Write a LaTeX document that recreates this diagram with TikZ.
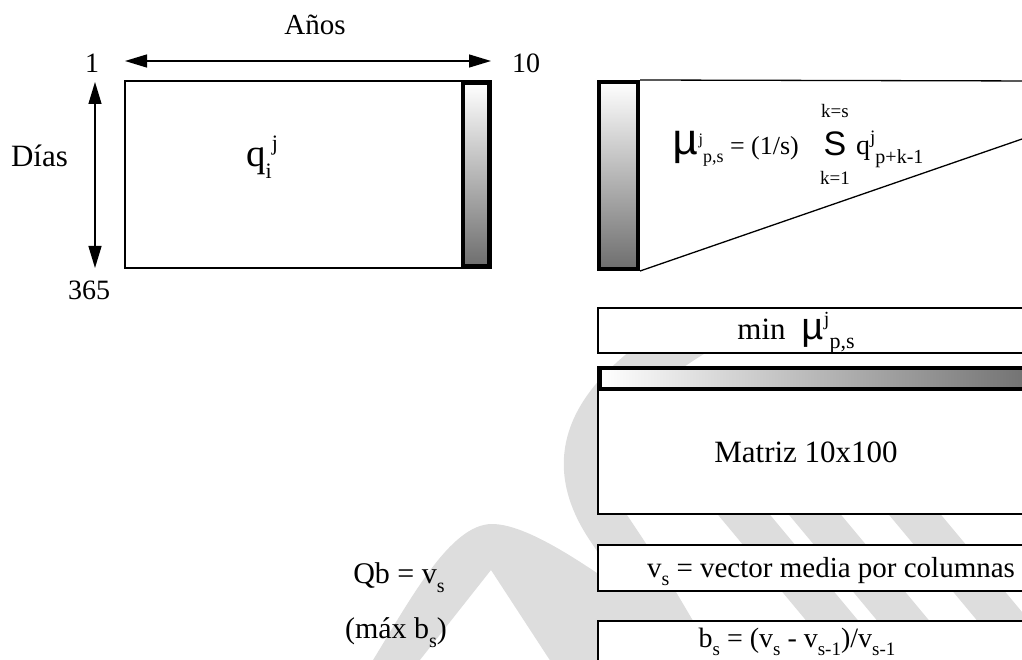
\documentclass[tikz,border=0pt]{standalone}
\usepackage{fontspec}
\setmainfont{Liberation Serif}
\newfontfamily\symsans{Liberation Sans}
\newfontfamily\monomu{Liberation Mono}
\usetikzlibrary{arrows.meta}

\definecolor{wmark}{HTML}{DDDDDD}
\definecolor{rampend}{HTML}{6E6E6E}

\newcommand{\hi}[2]{\raisebox{.42em}{\fontsize{#1}{#1}\selectfont #2}}
\newcommand{\lo}[2]{\raisebox{-.3em}{\fontsize{#1}{#1}\selectfont #2}}
\newcommand{\mug}[1]{{\monomu\fontsize{#1}{#1}\selectfont μ}}

\tikzset{
  cell/.style={draw, fill=white, line width=1.3pt, inner sep=0pt},
  ramp/.style={draw, line width=4pt, inner sep=0pt},
  lbl/.style={inner sep=0pt, anchor=base, font=\fontsize{29}{34}\selectfont},
  small/.style={inner sep=0pt, anchor=base, font=\fontsize{19}{23}\selectfont},
  span/.style={{Triangle[length=22pt,width=13pt]}-{Triangle[length=22pt,width=13pt]}, line width=1.3pt},
  wm/.style={draw=wmark, line width=45pt}
}

\begin{document}
\begin{tikzpicture}[x=1pt, y=-1pt]
\useasboundingbox (0,0) rectangle (1022,660);
\clip (0,0) rectangle (1022,660);

% watermark in the background
\fill[wmark] (370,665) .. controls (410,600) and (450,524) .. (492,524) .. controls (530,524) and (600,570) .. (720,665) -- (553,665) -- (491,570) -- (416,665) -- cycle;
\draw[wm] (700,330) .. controls (600,390) and (555,450) .. (610,530) .. controls (640,575) .. (690,660);
\foreach \sx in {650,721,821}
  \draw[wm, line width=40pt] (\sx,402) -- ++(250,300);

% daily flows matrix
\node[cell, minimum width=366pt, minimum height=187pt] (qmat) at (308,174.5) {};
\node[ramp, minimum width=26pt, minimum height=183pt, top color=white, bottom color=rampend] (qcol) at (476,174.5) {};
\coordinate (ytop) at (125,61);
\coordinate (yend) at (491,61);
\draw[span] (ytop) -- (yend);
\coordinate (dtop) at (95,82);
\coordinate (dend) at (95,268);
\draw[span] (dtop) -- (dend);

\node[lbl] (anos) at (315,35) {Años};
\node[lbl, font=\fontsize{28}{32}\selectfont] (first) at (92,73) {1};
\node[lbl, font=\fontsize{28}{32}\selectfont] (ten) at (526,73) {10};
\node[lbl, font=\fontsize{31}{36}\selectfont] (dias) at (39.5,167) {Días};
\node[lbl, font=\fontsize{28}{32}\selectfont] (days) at (89,299) {365};
\node[lbl, font=\fontsize{39}{44}\selectfont] (qij) at (262,167) {q\lo{22}{i}\hi{22}{j}};

% moving average
\node[ramp, minimum width=39.5pt, minimum height=187pt, top color=white, bottom color=rampend] (mucol) at (618.3,175.5) {};
\coordinate (fantop) at (1040,81);
\coordinate (fanbot) at (1040,132.8);
\draw[line width=1.3pt] (mucol.north east) -- (fantop);
\draw[line width=1.3pt] (mucol.south east) -- (fanbot);

\node[lbl, anchor=base west, font=\fontsize{26}{30}\selectfont] (avg) at (672,155) {\mug{44}\hi{16}{j}\lo{18}{p,s} = (1/s)};
\node[lbl, font=\symsans\fontsize{34}{38}\selectfont] (sig) at (835,156) {S};
\node[small] (kup) at (835,118) {k=s};
\node[small] (klo) at (835,185) {k=1};
\node[lbl, anchor=base west, font=\fontsize{28}{32}\selectfont] (qterm) at (856,155) {q\hi{19}{j}\lo{20}{p+k-1}};

% minima and matrix
\node[cell, minimum width=442pt, minimum height=45pt] (minbox) at (819,330.5) {};
\node[lbl, font=\fontsize{31}{36}\selectfont] (mintxt) at (796,339) {min\ \ \mug{38}\hi{20}{j}\lo{22}{p,s}};
\node[cell, minimum width=442pt, minimum height=147pt] (matbox) at (819,440.5) {};
\node[ramp, minimum width=440pt, minimum height=21pt, left color=white, right color=rampend] (rowbar) at (820,378.5) {};
\node[lbl, font=\fontsize{31}{36}\selectfont] (mattxt) at (806,462) {Matriz 10x100};

% mean vector and ratio
\node[cell, minimum width=442pt, minimum height=46pt] (vbox) at (819,568) {};
\node[lbl] (vtxt) at (831,577) {v\lo{20}{s} = vector media por columnas};
\node[cell, minimum width=442pt, minimum height=78pt] (ratiobox) at (819,660) {};
\node[lbl, font=\fontsize{28}{32}\selectfont] (btxt) at (797,647) {b\lo{19}{s} = (v\lo{19}{s} - v\lo{19}{s-1})/v\lo{19}{s-1}};
\node[lbl, font=\fontsize{30}{34}\selectfont] (qb) at (399,583) {Qb = v\lo{20}{s}};
\node[lbl, font=\fontsize{30}{34}\selectfont] (maxb) at (396,638) {(máx b\lo{20}{s})};
\end{tikzpicture}
\end{document}
